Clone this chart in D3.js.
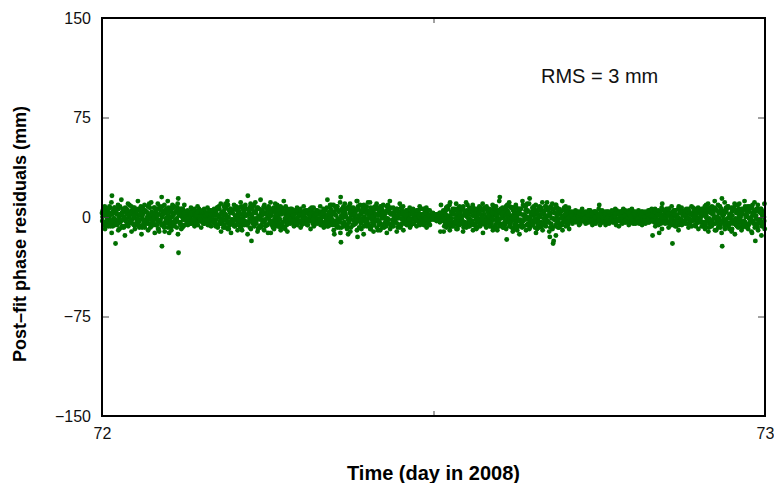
<!DOCTYPE html>
<html><head><meta charset="utf-8">
<script src="https://cdn.jsdelivr.net/npm/d3@7/dist/d3.min.js"></script>
<style>html,body{margin:0;padding:0;background:#fff;}svg{display:block;font-family:"Liberation Sans",Arial,Helvetica,sans-serif;}</style>
</head><body>
<script>
// Time axis (day of year 2008), 200 regular epochs across the day
const dayStart = 72, dayEnd = 73, nEpochs = 200;
const xTicks = [72, 72.5, 73];
const xTickLabels = ["72", "", "73"];
const yTicks = [-150, -75, 0, 75, 150];
const yTickLabels = ["\u2212150", "\u221275", "0", "75", "150"];
const rmsLabel = "RMS = 3 mm";

// Post-fit phase residuals (mm), one array per satellite track
const resA = [3,5,2,16,4,6,3,7,2,5, 4,6,3,5,8,4,2,6,15,5, 7,4,3,14,6,
  3,2,4,3,5,2,4,3,2,
  5,7,3,6,9,4,6,3,8,5,16,6,4,7,3,9,5,6,4,8,3,5,
  3,4,2,5,3,2,4,6,3,2,4,3,13,
  6,4,8,15,5,7,3,6,12,4,9,5,7,3,6,8,4,5,7,3,6,4,
  3,5,2,4,3,6,2,4,
  2,1,2,3,
  5,7,11,4,6,3,8,5,4,7,3,6,5,8,4,6,3,15,
  6,4,8,5,7,3,9,5,14,6,4,8,5,7,3,6,9,4,5,3,
  2,3,1,4,2,3,5,2,3,9,2,4,1,3,2,4,3,2,5,1,3,2,4,3,2,
  3,5,4,10,3,6,2,5,8,4,3,5,2,6,4,
  5,7,4,8,6,3,14,5,7,4,9,6,3,8,5,7,4,6,5];
const resB = [-3,-5,-2,-6,-20,-4,-7,-3,-5,-2, -6,-4,-8,-3,-5,-2,-6,-9,-22,-4, -5,-7,-3,-27,-6,
  -2,-4,-3,-5,-2,-3,-4,-2,-3,
  -4,-6,-3,-8,-5,-2,-7,-4,-6,-3,-5,-18,-4,-9,-6,-3,-12,-5,-7,-4,-6,-3,
  -3,-2,-5,-3,-4,-2,-6,-3,-2,-4,-3,-5,-4,
  -5,-13,-7,-19,-4,-6,-8,-3,-15,-5,-7,-4,-9,-6,-3,-5,-8,-4,-6,-3,-5,-7,
  -3,-4,-2,-5,-3,-2,-6,-3,
  -2,-1,-2,-11,
  -11,-5,-7,-4,-6,-3,-8,-5,-4,-6,-3,-7,-5,-4,-6,-9,-4,-5,
  -5,-17,-6,-9,-4,-7,-3,-6,-8,-5,-4,-7,-6,-3,-15,-20,-5,-7,-4,-3,
  -2,-3,-1,-4,-2,-3,-2,-5,-3,-1,-4,-2,-3,-2,-6,-3,-1,-4,-2,-3,-2,-5,-3,-2,-4,
  -14,-3,-12,-4,-2,-5,-20,-3,-6,-4,-2,-5,-3,-7,-4,
  -4,-6,-8,-3,-5,-7,-22,-4,-6,-9,-3,-5,-7,-4,-6,-12,-18,-5,-7];
const resC = [0,1,-1,2,-2,0,1,-1,0,2, -1,1,0,-2,1,0,-1,2,0,-1, 1,0,-2,1,0,
  0,-1,1,0,-1,1,0,-1,1,
  1,0,-1,2,0,-2,1,0,-1,1,2,0,-1,0,1,-2,0,1,-1,0,2,-1,
  0,1,-1,0,1,0,-1,1,0,-1,0,1,0,
  0,2,-1,1,0,-2,1,0,-1,2,0,-1,1,0,-2,1,0,-1,2,0,1,-1,
  1,0,-1,0,1,-1,0,1,
  0,1,-1,0,
  1,0,-1,2,0,-1,1,0,-2,1,0,-1,2,0,-1,1,0,-1,
  0,1,-1,2,0,-2,1,0,-1,1,2,0,-1,0,1,-1,0,2,-1,0,
  0,1,0,-1,0,1,-1,0,1,0,-1,0,1,0,-1,0,1,-1,0,0,1,-1,0,1,0,
  0,-1,1,0,-1,1,0,0,-1,1,0,-1,1,0,-1,
  1,0,-1,2,0,-1,1,-2,0,1,-1,0,2,0,-1,1,0,-2,1];
const resD = [5,-4,8,-7,3,-9,6,-2,9,-5, 2,-8,7,-3,10,-6,4,-11,8,-5, -12,9,-4,6,-8,
  4,-5,2,-3,6,-4,3,-6,5,
  -7,8,-5,10,-9,4,-6,7,-10,9,-4,6,11,-8,5,-7,8,-6,10,-5,7,-9,
  -5,6,-4,3,-6,5,-3,7,-5,4,-6,5,-7,
  9,-6,5,-8,10,-13,7,-5,8,-9,4,11,-7,6,-10,8,-5,9,-6,4,-8,7,
  -5,4,-6,3,5,-4,6,-5,
  -1,2,1,9,
  -7,8,-4,6,-9,5,-6,9,-5,4,-8,7,-3,6,-7,8,-10,6,
  -8,9,-5,7,-10,6,-7,10,-4,8,-9,5,-6,11,-8,-18,7,-5,6,-4,
  4,-3,2,-5,3,-4,5,-2,3,-6,4,-3,2,-4,5,-3,6,-2,4,-5,3,-4,2,-3,5,
  5,-6,3,-4,6,-5,4,-7,5,-3,6,-4,7,-5,4,
  -7,9,-5,6,-10,8,-4,7,-9,5,-6,10,-8,6,-5,9,-7,4,-6];
const resE = [2,4,1,3,5,2,4,3,1,4, 3,5,2,4,1,3,6,2,4,3, 5,1,4,2,3,
  1,3,2,1,3,2,1,2,3,
  3,1,4,2,5,3,1,4,2,6,3,2,4,1,5,3,2,4,1,3,5,2,
  2,1,3,2,1,3,2,4,1,2,3,1,2,
  4,2,5,1,3,6,2,4,1,3,5,2,4,6,1,3,2,5,3,1,4,2,
  2,1,3,2,1,2,3,1,
  1,0,1,1,
  3,1,4,2,5,1,3,2,4,1,3,5,2,4,1,3,2,4,
  2,5,1,4,3,6,2,4,1,3,5,2,4,1,3,6,2,4,1,3,
  1,2,1,2,1,3,1,2,1,2,3,1,2,1,2,1,3,2,1,2,1,2,1,3,1,
  2,1,3,2,1,3,2,1,4,2,1,3,2,1,3,
  3,1,4,2,5,3,1,4,2,6,3,1,5,2,4,3,1,4,2];
const resF = [6,3,7,5,2,8,4,6,3,7, 5,2,6,4,7,3,5,8,2,6, 4,7,5,3,6,
  4,2,5,3,2,4,3,5,2,
  4,6,2,7,5,3,8,4,6,2,5,7,3,6,4,2,7,5,3,6,4,8,
  4,3,5,2,4,3,5,2,3,4,2,5,3,
  3,7,4,6,2,8,5,3,6,4,7,2,5,8,3,6,4,7,2,5,3,6,
  4,2,5,3,4,2,3,5,
  2,1,1,2,
  4,6,2,5,3,7,4,2,6,3,5,2,7,4,3,6,5,2,
  5,3,7,4,6,2,8,5,3,6,4,7,2,5,8,3,6,4,7,5,
  3,2,4,2,3,1,3,4,2,3,2,4,3,2,3,4,2,3,2,4,3,2,3,2,4,
  4,3,2,5,4,3,5,2,3,4,5,2,4,3,5,
  6,4,7,3,5,8,4,6,2,7,5,3,6,4,8,2,6,5,3];
const resG = [-4,-2,-5,-1,-3,-4,-2,-6,-3,-1, -4,-2,-5,-3,-2,-4,-1,-3,-5,-2, -3,-4,-1,-5,-2,
  -3,-1,-2,-3,-1,-2,-3,-1,-2,
  -2,-5,-3,-1,-4,-2,-6,-3,-1,-4,-2,-5,-3,-1,-4,-6,-2,-3,-5,-1,-4,-2,
  -3,-1,-2,-4,-1,-3,-2,-1,-3,-2,-4,-1,-3,
  -2,-5,-3,-1,-6,-4,-2,-5,-3,-1,-4,-6,-2,-3,-5,-1,-4,-2,-6,-3,-1,-5,
  -1,-3,-2,-1,-3,-2,-1,-3,
  0,-1,-1,0,
  -2,-4,-1,-5,-3,-2,-4,-1,-3,-5,-2,-4,-1,-3,-5,-2,-4,-1,
  -4,-1,-3,-6,-2,-4,-1,-5,-3,-2,-6,-4,-1,-3,-5,-2,-4,-1,-3,-5,
  -2,-1,-3,-1,-2,-1,-2,-3,-1,-2,-1,-2,-3,-1,-2,-1,-2,-1,-3,-2,-1,-2,-3,-1,-2,
  -1,-3,-2,-1,-4,-2,-3,-1,-2,-3,-1,-4,-2,-3,-1,
  -4,-2,-5,-1,-3,-6,-2,-4,-1,-5,-3,-2,-4,-6,-1,-3,-5,-2,-4];
const resH = [-5,-3,-7,-4,-6,-2,-8,-5,-3,-6, -4,-7,-3,-5,-8,-2,-6,-4,-7,-3, -6,-5,-8,-4,-7,
  -3,-5,-2,-4,-3,-5,-2,-4,-3,
  -6,-4,-8,-3,-6,-5,-2,-7,-4,-6,-8,-3,-5,-7,-2,-6,-4,-8,-3,-5,-7,-4,
  -4,-2,-5,-3,-4,-2,-3,-5,-4,-2,-5,-3,-4,
  -6,-3,-8,-5,-7,-2,-6,-4,-8,-3,-5,-7,-4,-2,-6,-8,-3,-5,-7,-4,-6,-2,
  -4,-3,-5,-2,-4,-3,-5,-2,
  -1,-2,-2,-1,
  -5,-3,-7,-4,-6,-2,-5,-7,-3,-6,-4,-2,-6,-5,-3,-7,-4,-6,
  -6,-4,-8,-3,-7,-5,-2,-6,-4,-8,-3,-7,-5,-4,-6,-2,-8,-5,-3,-6,
  -3,-2,-4,-3,-2,-4,-3,-2,-3,-4,-2,-3,-2,-4,-3,-2,-4,-3,-2,-3,-4,-2,-3,-4,-2,
  -4,-2,-5,-3,-4,-2,-5,-3,-2,-4,-5,-3,-2,-4,-3,
  -6,-3,-7,-5,-4,-8,-2,-6,-5,-3,-7,-4,-6,-8,-3,-5,-7,-4,-6];
const resI = [1,-2,3,-1,2,-3,0,2,-2,1, -1,3,-3,0,2,-1,1,-2,3,0, -1,2,-3,1,-2,
  -1,2,-2,1,0,-2,2,-1,1,
  2,-3,1,-1,3,-2,0,2,-3,1,-1,3,-2,0,2,-1,1,-3,2,-2,3,0,
  -2,1,-1,2,0,-2,1,-1,2,-2,0,1,-1,
  -3,1,-2,3,0,-1,2,-3,1,-2,3,-1,0,2,-3,1,-1,3,-2,0,2,-1,
  1,-2,2,-1,0,2,-2,1,
  0,1,0,-1,
  2,-2,3,-1,0,-3,2,-1,1,-2,3,0,-3,1,-1,2,-2,3,
  -2,3,-1,0,2,-3,1,-2,3,-1,0,2,-3,1,-1,3,-2,0,2,-1,
  1,-1,0,2,-1,1,-2,0,1,-1,2,0,-1,1,-2,0,1,-1,0,2,-1,1,0,-2,1,
  -1,2,0,-2,1,-1,2,0,-2,1,-1,2,0,-1,1,
  2,-2,3,-1,0,-3,2,-1,1,-2,3,0,-3,1,-1,2,-2,3,0];
const resJ = [-6,4,-3,7,-5,2,-7,5,-4,6, -2,8,-6,3,-5,7,-3,5,-8,4, 6,-4,7,-6,3,
  -4,3,-5,4,-2,5,-3,2,-4,
  7,-5,4,-8,6,-3,5,-7,3,-5,8,-4,6,-2,7,-6,3,-5,6,-8,4,-6,
  4,-3,5,-4,2,-5,3,-2,5,-4,3,-5,4,
  -5,8,-4,6,-7,3,-6,5,-8,7,-3,4,-6,8,-5,3,-7,6,-4,5,-6,3,
  3,-5,4,-3,2,-4,5,-3,
  1,-2,2,-1,
  5,-6,3,-4,7,-5,4,-3,6,-7,2,-5,6,-4,3,-6,5,-7,
  6,-4,7,-5,3,-8,5,-6,4,-3,7,-5,8,-4,6,-7,3,-6,5,-4,
  -3,4,-2,3,-4,2,-3,4,-2,3,-4,2,-3,3,-2,4,-3,2,-4,3,-2,4,-3,2,-3,
  4,-3,5,-4,3,-5,2,-4,5,-3,4,-2,5,-4,3,
  -5,6,-4,7,-3,5,-6,8,-4,6,-7,3,-5,7,-4,5,-8,6,-3];
const resK = [8,6,11,7,9,13,6,10,8,7, 12,6,9,8,11,7,10,6,9,12, 7,8,10,6,9,
  5,7,6,8,5,6,7,5,6,
  7,10,8,12,6,9,7,11,8,6,10,9,7,13,8,6,11,7,9,8,12,6,
  6,5,7,6,8,5,6,7,5,8,6,7,9,
  9,7,11,8,6,10,7,12,9,6,8,11,7,10,6,9,8,12,7,6,10,8,
  5,7,6,5,8,6,7,5,
  3,2,3,4,
  7,9,6,10,8,6,11,7,9,6,8,10,7,6,9,8,12,7,
  8,11,7,9,6,12,8,10,7,9,6,11,8,7,10,9,6,12,8,7,
  4,5,3,6,4,5,3,4,6,5,3,4,5,6,3,4,5,3,6,4,5,3,4,5,6,
  6,5,7,5,6,8,5,6,7,5,6,8,5,7,6,
  8,10,7,12,9,6,11,8,7,10,9,6,12,8,7,11,9,6,10];
const resL = [-9,-7,-12,-6,-10,-8,-14,-7,-11,-9, -6,-13,-8,-10,-7,-12,-9,-6,-11,-8, -10,-7,-13,-9,-6,
  -6,-5,-7,-6,-8,-5,-6,-7,-5,
  -8,-11,-6,-9,-12,-7,-10,-8,-6,-13,-9,-7,-11,-8,-10,-6,-12,-9,-7,-10,-8,-11,
  -5,-7,-6,-8,-5,-6,-9,-7,-5,-6,-8,-7,-6,
  -10,-8,-12,-7,-9,-11,-6,-10,-8,-13,-7,-9,-11,-8,-10,-6,-12,-9,-7,-11,-8,-10,
  -6,-8,-5,-7,-6,-5,-8,-6,
  -2,-3,-4,-3,
  -8,-10,-7,-9,-6,-11,-8,-7,-10,-9,-6,-12,-8,-7,-10,-9,-7,-8,
  -9,-7,-11,-8,-13,-7,-10,-9,-6,-12,-8,-10,-7,-11,-9,-14,-8,-10,-7,-9,
  -5,-4,-6,-3,-5,-4,-6,-5,-3,-4,-6,-5,-4,-3,-7,-5,-4,-6,-3,-5,-4,-6,-5,-4,-3,
  -7,-6,-9,-5,-8,-6,-7,-10,-6,-5,-8,-7,-6,-9,-7,
  -9,-11,-7,-10,-8,-12,-9,-7,-11,-13,-8,-10,-7,-9,-11,-8,-10,-14,-9];
const tracks = [resA, resB, resC, resD, resE, resF, resG, resH, resI, resJ, resK, resL];

const W = 774, H = 483;
const m = {left: 102, right: 774 - 765, top: 18, bottom: 483 - 416};
const svg = d3.select("body").append("svg").attr("width", W).attr("height", H);

const x = d3.scaleLinear().domain([dayStart, dayEnd]).range([m.left, W - m.right]);
const y = d3.scaleLinear().domain([-150, 150]).range([H - m.bottom, m.top]);

// points: each track sampled on the same epoch grid, staggered by a fraction of an epoch
const step = (dayEnd - dayStart) / nEpochs;
const pts = [];
tracks.forEach((tr, k) => tr.forEach((v, i) =>
  pts.push({t: dayStart + (i + k / tracks.length) * step, v})));
svg.append("g").selectAll("circle").data(pts).join("circle")
  .attr("cx", d => x(d.t)).attr("cy", d => y(d.v)).attr("r", 2.45)
  .attr("fill", "#006f00");

// axes (ticks inward, mirrored)
const fs = 16;
const gL = svg.append("g").attr("transform", `translate(${m.left},0)`)
  .call(d3.axisLeft(y).tickValues(yTicks).tickSize(-7).tickPadding(11).tickFormat((d, i) => yTickLabels[i]));
const gR = svg.append("g").attr("transform", `translate(${W - m.right},0)`)
  .call(d3.axisRight(y).tickValues(yTicks).tickSize(-7).tickFormat(""));
const gB = svg.append("g").attr("transform", `translate(0,${H - m.bottom})`)
  .call(d3.axisBottom(x).tickValues(xTicks).tickSize(-5).tickPadding(12).tickFormat((d, i) => xTickLabels[i]));
const gT = svg.append("g").attr("transform", `translate(0,${m.top})`)
  .call(d3.axisTop(x).tickValues(xTicks).tickSize(-5).tickFormat(""));
[gL, gR, gB, gT].forEach(g => {
  g.select(".domain").remove();
  g.selectAll(".tick line").attr("stroke", "#444").attr("stroke-width", 1);
  g.selectAll(".tick text").attr("font-size", fs).attr("fill", "#111")
    .attr("font-family", "'Liberation Sans', Arial, sans-serif");
});

// frame
svg.append("rect").attr("x", m.left).attr("y", m.top)
  .attr("width", W - m.left - m.right).attr("height", H - m.top - m.bottom)
  .attr("fill", "none").attr("stroke", "#000").attr("stroke-width", 2);

// axis titles
svg.append("text").attr("x", (m.left + W - m.right) / 2).attr("y", 480)
  .attr("text-anchor", "middle").attr("font-weight", "bold").attr("font-size", 20)
  .text("Time (day in 2008)");
svg.append("text").attr("transform", "translate(26,234) rotate(-90)")
  .attr("text-anchor", "middle").attr("font-weight", "bold").attr("font-size", 18)
  .text("Post\u2013fit phase residuals (mm)");

// annotation
svg.append("text").attr("x", 541).attr("y", 83).attr("font-size", 20).attr("fill", "#111")
  .text(rmsLabel);
</script>
</body></html>
